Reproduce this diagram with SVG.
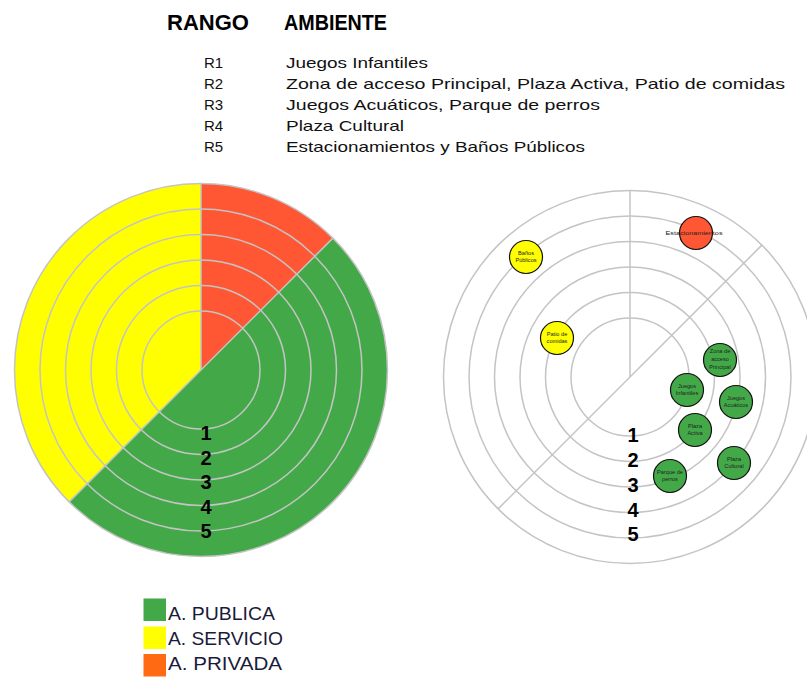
<svg xmlns="http://www.w3.org/2000/svg" width="807" height="677" viewBox="0 0 807 677">
<style>
.hdr{font-family:"Liberation Sans",Arial,sans-serif;font-weight:bold;font-size:22px;fill:#000}
.row{font-family:"Liberation Sans",Arial,sans-serif;font-size:15px;fill:#111}
.num{font-family:"Liberation Sans",Arial,sans-serif;font-weight:bold;font-size:20px;fill:#000;text-anchor:middle}
.ring{fill:none;stroke:#c4c4c4;stroke-width:1.5}
.sep{stroke:#c4c4c4;stroke-width:1.5;fill:none}
.node{stroke:#111;stroke-width:1.2}
.nl{font-family:"Liberation Sans",Arial,sans-serif;font-size:5.6px;fill:#222;text-anchor:middle}
.leg{font-family:"Liberation Sans",Arial,sans-serif;font-size:19px;fill:#1a1a3a}
.g{fill:#43A948}.y{fill:#FFFF00}.r{fill:#FF5733}
</style>

<g id="header">
<text class="hdr" x="167" y="30" textLength="82" lengthAdjust="spacingAndGlyphs">RANGO</text>
<text class="hdr" x="284" y="30" textLength="103" lengthAdjust="spacingAndGlyphs">AMBIENTE</text>
<text class="row" x="204" y="68">R1</text>
<text class="row" x="286" y="68" textLength="142" lengthAdjust="spacingAndGlyphs">Juegos Infantiles</text>
<text class="row" x="204" y="89">R2</text>
<text class="row" x="286" y="89" textLength="499" lengthAdjust="spacingAndGlyphs">Zona de acceso Principal, Plaza Activa, Patio de comidas</text>
<text class="row" x="204" y="110">R3</text>
<text class="row" x="286" y="110" textLength="314" lengthAdjust="spacingAndGlyphs">Juegos Acuáticos, Parque de perros</text>
<text class="row" x="204" y="131">R4</text>
<text class="row" x="286" y="131" textLength="118" lengthAdjust="spacingAndGlyphs">Plaza Cultural</text>
<text class="row" x="204" y="152">R5</text>
<text class="row" x="286" y="152" textLength="299" lengthAdjust="spacingAndGlyphs">Estacionamientos y Baños Públicos</text>
</g>

<g id="left-chart">
<path class="r" d="M201,370 L201,183.5 A186.5,186.5 0 0 1 332.9,238.1 Z"/>
<path class="g" d="M201,370 L332.9,238.1 A186.5,186.5 0 0 1 69.1,501.9 Z"/>
<path class="y" d="M201,370 L69.1,501.9 A186.5,186.5 0 0 1 201,183.5 Z"/>
<line class="sep" x1="201" y1="370" x2="201" y2="183.5"/>
<line class="sep" x1="201" y1="370" x2="332.9" y2="238.1"/>
<line class="sep" x1="201" y1="370" x2="69.1" y2="501.9"/>
<circle class="ring" cx="201" cy="370" r="59"/>
<circle class="ring" cx="201" cy="370" r="84.5"/>
<circle class="ring" cx="201" cy="370" r="110"/>
<circle class="ring" cx="201" cy="370" r="135.5"/>
<circle class="ring" cx="201" cy="370" r="161"/>
<circle class="ring" cx="201" cy="370" r="186.5"/>
<text class="num" x="206" y="440">1</text>
<text class="num" x="206" y="465">2</text>
<text class="num" x="206" y="489">3</text>
<text class="num" x="206" y="514">4</text>
<text class="num" x="206" y="538">5</text>
</g>

<g id="right-chart">
<circle class="ring" cx="630" cy="377" r="59"/>
<circle class="ring" cx="630" cy="377" r="84.5"/>
<circle class="ring" cx="630" cy="377" r="110"/>
<circle class="ring" cx="630" cy="377" r="135.5"/>
<circle class="ring" cx="630" cy="377" r="161"/>
<circle class="ring" cx="630" cy="377" r="186.5"/>
<g id="connectors">
<line class="sep" x1="630" y1="377" x2="630" y2="190.5"/>
<line class="sep" x1="498.1" y1="508.9" x2="761.9" y2="245.1"/>
</g>
<text class="num" x="633" y="442">1</text>
<text class="num" x="633" y="467">2</text>
<text class="num" x="633" y="492">3</text>
<text class="num" x="633" y="517">4</text>
<text class="num" x="633" y="541">5</text>
</g>

<g id="node-estacionamientos">
<circle class="node r" cx="696" cy="233" r="16.5"/>
<text class="nl" x="694" y="235" textLength="57" lengthAdjust="spacingAndGlyphs">Estacionamientos</text>
</g>
<g id="node-banos">
<circle class="node y" cx="526" cy="257" r="16.5"/>
<text class="nl" x="526" y="255">Baños</text>
<text class="nl" x="526" y="262">Públicos</text>
</g>
<g id="node-patio">
<circle class="node y" cx="557" cy="338" r="16.5"/>
<text class="nl" x="557" y="336">Patio de</text>
<text class="nl" x="557" y="343">comidas</text>
</g>
<g id="node-zona">
<circle class="node g" cx="720" cy="360" r="16.5"/>
<text class="nl" x="720" y="353">Zona de</text>
<text class="nl" x="720" y="361">acceso</text>
<text class="nl" x="720" y="369">Principal</text>
</g>
<g id="node-juegos-infantiles">
<circle class="node g" cx="687" cy="390" r="16.5"/>
<text class="nl" x="687" y="388">Juegos</text>
<text class="nl" x="687" y="395">Infantiles</text>
</g>
<g id="node-juegos-acuaticos">
<circle class="node g" cx="736" cy="402" r="16.5"/>
<text class="nl" x="736" y="400">Juegos</text>
<text class="nl" x="736" y="407">Acuáticos</text>
</g>
<g id="node-plaza-activa">
<circle class="node g" cx="695" cy="430" r="16.5"/>
<text class="nl" x="695" y="428">Plaza</text>
<text class="nl" x="695" y="435">Activa</text>
</g>
<g id="node-plaza-cultural">
<circle class="node g" cx="734" cy="463" r="16.5"/>
<text class="nl" x="734" y="461">Plaza</text>
<text class="nl" x="734" y="468">Cultural</text>
</g>
<g id="node-parque-perros">
<circle class="node g" cx="670" cy="476" r="16.5"/>
<text class="nl" x="670" y="474">Parque de</text>
<text class="nl" x="670" y="481">perros</text>
</g>

<g id="legend">
<rect x="143.5" y="598.5" width="22.5" height="22.5" fill="#43A948"/>
<rect x="143.5" y="626.5" width="22.5" height="22.5" fill="#FFFF00"/>
<rect x="143.5" y="654" width="22.5" height="22.5" fill="#FF6A13"/>
<text class="leg" x="168" y="620" textLength="107" lengthAdjust="spacingAndGlyphs">A. PUBLICA</text>
<text class="leg" x="168" y="645" textLength="115" lengthAdjust="spacingAndGlyphs">A. SERVICIO</text>
<text class="leg" x="168" y="670" textLength="114" lengthAdjust="spacingAndGlyphs">A. PRIVADA</text>
</g>
</svg>
